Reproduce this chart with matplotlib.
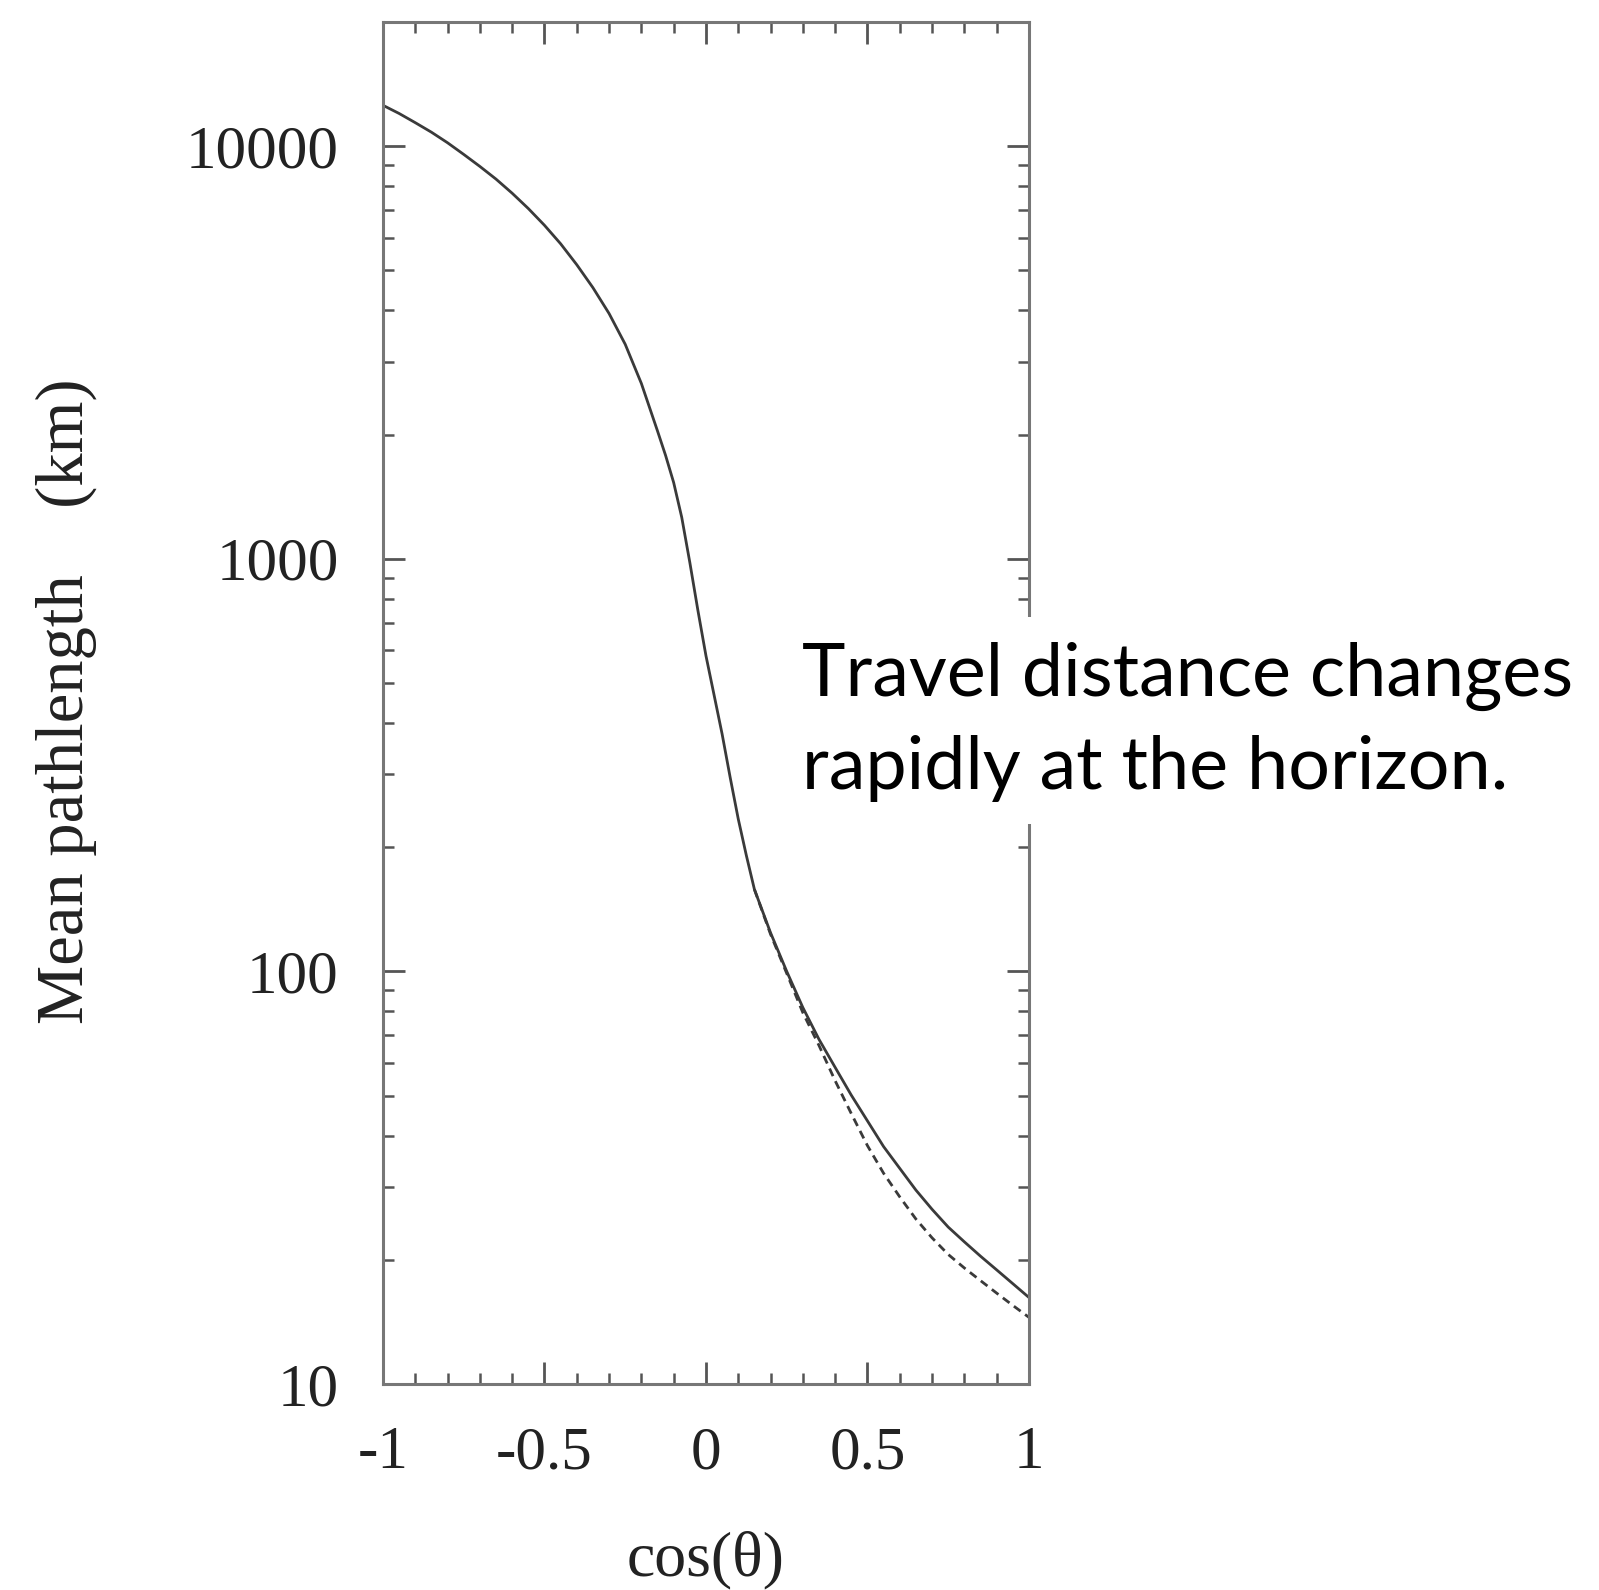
import matplotlib
matplotlib.use("Agg")
import matplotlib.pyplot as plt
from matplotlib.ticker import MultipleLocator, LogLocator, FixedLocator, NullFormatter

plt.rcParams['axes.unicode_minus'] = False

# cos(theta) sample points (solid curve)
cos_theta = [-1.0, -0.95, -0.9, -0.85, -0.8, -0.75, -0.7, -0.65, -0.6, -0.55, -0.5,
             -0.45, -0.4, -0.35, -0.3, -0.25, -0.2, -0.15, -0.125, -0.1, -0.075, -0.05,
             -0.025, 0.0, 0.025, 0.05, 0.075, 0.1, 0.125, 0.15, 0.2, 0.25, 0.3,
             0.35, 0.4, 0.45, 0.5, 0.55, 0.6, 0.65, 0.7, 0.75, 0.8, 0.85, 0.9,
             0.95, 1.0]
# mean pathlength (km), solid curve
path_solid = [12560, 12000, 11400, 10810, 10190, 9550, 8930, 8320, 7690, 7060, 6430,
              5800, 5160, 4540, 3930, 3310, 2660, 2040, 1780, 1530, 1260, 980,
              750, 582, 468, 376, 295, 234, 191, 158, 124, 100, 81.7,
              68.4, 58.5, 50.1, 43.4, 37.6, 33.3, 29.5, 26.5, 24.0, 22.1, 20.4, 18.9,
              17.5, 16.2]
# dashed curve (differs above cos(theta) ~ 0.2)
cos_theta_dashed = [0.15, 0.2, 0.25, 0.3, 0.35, 0.4, 0.45, 0.5, 0.55, 0.6, 0.65,
                    0.7, 0.75, 0.8, 0.85, 0.9, 0.95, 1.0]
path_dashed = [158, 123, 98.9, 79.4, 66.1, 54.3, 45.2, 37.8, 32.4, 28.4, 25.1,
               22.6, 20.6, 19.1, 17.8, 16.6, 15.5, 14.5]

xticks = [-1, -0.5, 0, 0.5, 1]
xtick_labels = ["-1", "-0.5", "0", "0.5", "1"]
yticks = [10, 100, 1000, 10000]
ytick_labels = ["10", "100", "1000", "10000"]

fig = plt.figure(figsize=(15.99, 15.90), dpi=100)
ax = fig.add_axes([0.2395, 0.1296, 0.404, 0.8566])

line_color = "#3a3a3a"
ax.plot(cos_theta, path_solid, color=line_color, lw=2.0)
ax.plot(cos_theta_dashed, path_dashed, color=line_color, lw=2.0, ls=(0, (3, 2)))

ax.set_yscale('log')
ax.set_xlim(-1, 1)
ax.set_ylim(10, 20000)

serif = ['Liberation Serif', 'DejaVu Serif']
ax.xaxis.set_major_locator(FixedLocator(xticks))
ax.xaxis.set_minor_locator(MultipleLocator(0.1))
ax.set_xticks(xticks)
ax.set_xticklabels(xtick_labels, fontfamily=serif, fontsize=44, color="#222222")
ax.set_yticks(yticks)
ax.set_yticklabels(ytick_labels, fontfamily=serif, fontsize=44, color="#222222")
ax.yaxis.set_minor_locator(LogLocator(base=10, subs=[2, 3, 4, 5, 6, 7, 8, 9]))
ax.yaxis.set_minor_formatter(NullFormatter())

ax.tick_params(which='both', direction='in', top=True, right=True, color="#555555")
ax.tick_params(which='major', length=16, width=2)
ax.tick_params(which='minor', length=8, width=1.8)
ax.tick_params(axis='y', which='major', pad=32)
ax.tick_params(axis='x', which='major', pad=30)

for s in ax.spines.values():
    s.set_linewidth(2.2)
    s.set_color("#777777")

fig.text(0.0413, 0.559, "Mean pathlength    (km)", rotation=90, ha='center', va='center',
         fontfamily=serif, fontsize=48, color="#222222")
fig.text(0.4415, 0.0189, "cos(\u03b8)", ha='center', va='center',
         fontfamily=serif, fontsize=46, color="#222222")

fig.text(0.5016, 0.546, "Travel distance changes\nrapidly at the horizon.",
         ha='left', va='center', fontfamily=['Lato', 'DejaVu Sans'], fontsize=53,
         color='black', linespacing=1.45,
         bbox=dict(facecolor='white', edgecolor='none', pad=16))

fig.savefig("out.png", dpi=100, facecolor='white')
